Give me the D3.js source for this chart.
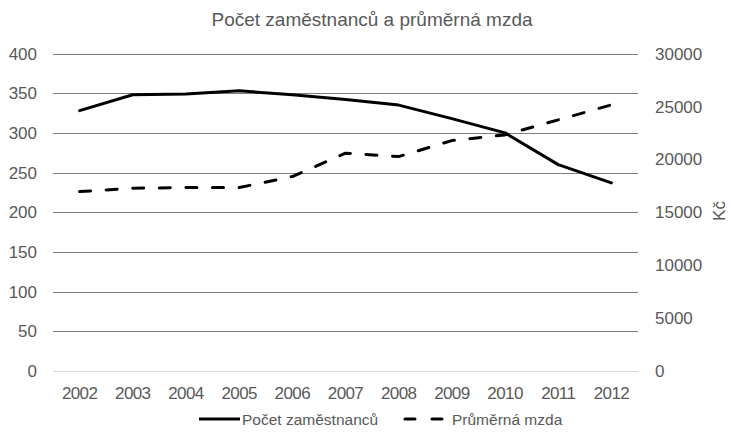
<!DOCTYPE html>
<html>
<head>
<meta charset="utf-8">
<script src="https://cdn.jsdelivr.net/npm/d3@7"></script>
<style>
  body { margin: 0; background: #fff; }
  text { font-family: "Liberation Sans", Arial, sans-serif; fill: #595959; }
</style>
</head>
<body>
<svg id="chart" width="731" height="432"></svg>
<script>
const years = ['2002', '2003', '2004', '2005', '2006', '2007', '2008', '2009', '2010', '2011', '2012']
const zamestnanci = [328, 348, 349, 353, 348, 342, 335, 318, 300, 260, 237]
const mzda = [16950, 17270, 17330, 17330, 18370, 20580, 20260, 21770, 22310, 23730, 25150]
const leftTicks = [0, 50, 100, 150, 200, 250, 300, 350, 400]
const rightTicks = [0, 5000, 10000, 15000, 20000, 25000, 30000]

const svg = d3.select('#chart')
const plotLeft = 53, plotRight = 638, plotTop = 53.5, plotBottom = 371

const x = d3.scaleBand().domain(years).range([plotLeft, plotRight])
const yL = d3.scaleLinear().domain([0, 400]).range([plotBottom, plotTop])
const yR = d3.scaleLinear().domain([0, 30000]).range([plotBottom, plotTop])

// mřížka
svg.append('g').selectAll('line')
  .data(leftTicks)
  .join('line')
  .attr('x1', plotLeft).attr('x2', plotRight)
  .attr('y1', d => Math.round(yL(d)) + 0.5).attr('y2', d => Math.round(yL(d)) + 0.5)
  .attr('stroke', d => d === 0 ? '#d9d9d9' : '#7f7f7f')
  .attr('stroke-width', 1)

// levá osa
svg.append('g').selectAll('text')
  .data(leftTicks)
  .join('text')
  .attr('x', 37).attr('y', d => yL(d))
  .attr('dy', '0.36em')
  .attr('text-anchor', 'end')
  .attr('font-size', 17)
  .text(d => d)

// pravá osa
svg.append('g').selectAll('text')
  .data(rightTicks)
  .join('text')
  .attr('x', 655).attr('y', d => yR(d))
  .attr('dy', '0.36em')
  .attr('font-size', 17)
  .text(d => d)

// osa x
svg.append('g').selectAll('text')
  .data(years)
  .join('text')
  .attr('x', d => x(d) + x.bandwidth() / 2).attr('y', 393)
  .attr('dy', '0.36em')
  .attr('text-anchor', 'middle')
  .attr('font-size', 17)
  .attr('letter-spacing', -0.6)
  .text(d => d)

svg.append('text')
  .attr('transform', 'translate(719,211) rotate(-90)')
  .attr('text-anchor', 'middle')
  .attr('dy', '0.36em')
  .attr('font-size', 17)
  .text('Kč')

svg.append('text')
  .attr('x', 372).attr('y', 19)
  .attr('dy', '0.36em')
  .attr('text-anchor', 'middle')
  .attr('font-size', 19)
  .text('Počet zaměstnanců a průměrná mzda')

const cx = (d, i) => x(years[i]) + x.bandwidth() / 2
const line1 = d3.line().x(cx).y(d => yL(d))
const line2 = d3.line().x(cx).y(d => yR(d))

svg.append('path')
  .attr('d', line1(zamestnanci))
  .attr('fill', 'none').attr('stroke', '#000')
  .attr('stroke-width', 3).attr('stroke-linejoin', 'round').attr('stroke-linecap', 'round')

svg.append('path')
  .attr('d', line2(mzda))
  .attr('fill', 'none').attr('stroke', '#000')
  .attr('stroke-width', 3).attr('stroke-linejoin', 'round').attr('stroke-linecap', 'round')
  .attr('stroke-dasharray', '11,15.6')

// legenda
const legY = 419
const leg = svg.append('g')
leg.append('line').attr('x1', 199).attr('x2', 240).attr('y1', legY).attr('y2', legY)
  .attr('stroke', '#000').attr('stroke-width', 3)
leg.append('text').attr('x', 242).attr('y', legY).attr('dy', '0.36em').attr('font-size', 15.5)
  .text('Počet zaměstnanců')
leg.append('line').attr('x1', 405).attr('x2', 443).attr('y1', legY).attr('y2', legY)
  .attr('stroke', '#000').attr('stroke-width', 3).attr('stroke-dasharray', '10,17')
  .attr('stroke-linecap', 'round')
leg.append('text').attr('x', 452).attr('y', legY).attr('dy', '0.36em').attr('font-size', 15.5)
  .text('Průměrná mzda')
</script>
</body>
</html>
